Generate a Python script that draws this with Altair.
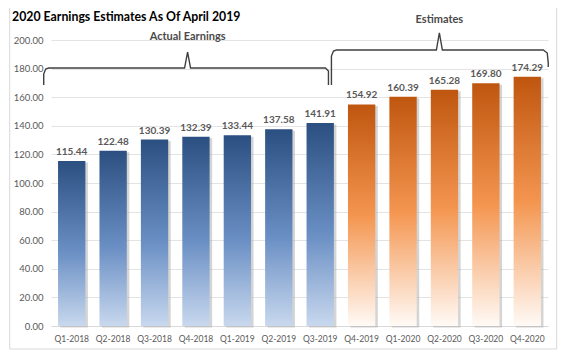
import altair as alt
import pandas as pd

quarters = ["Q1-2018", "Q2-2018", "Q3-2018", "Q4-2018", "Q1-2019", "Q2-2019", "Q3-2019",
            "Q4-2019", "Q1-2020", "Q2-2020", "Q3-2020", "Q4-2020"]
values = [115.44, 122.48, 130.39, 132.39, 133.44, 137.58, 141.91,
          154.92, 160.39, 165.28, 169.80, 174.29]
groups = ["Actual"] * 7 + ["Estimate"] * 5

# bracket outlines (x in category-step units, y in value units)
br_id = ["a"] * 10 + ["e"] * 11
br_x = [-0.176, -0.176, -0.128, -0.055, 3.225, 3.298, 3.370, 6.627, 6.699, 6.699,
        6.771, 6.771, 6.820, 6.892, 9.305, 9.377, 9.450, 11.886, 11.982, 12.006, 12.006]
br_y = [168.5, 176.2, 179.7, 180.4, 180.4, 191.6, 180.4, 180.4, 178.3, 168.5,
        168.5, 188.8, 192.3, 193.0, 193.0, 204.9, 193.0, 193.0, 190.9, 184.0, 181.1]
br_label = ["Actual Earnings", "Estimates"]
br_label_x = [3.298, 9.377]
br_label_y = [202.0, 214.0]
title_text = ["2020 Earnings Estimates As Of April 2019"]

FONT = "Lato"

df = pd.DataFrame({"quarter": quarters, "value": values, "group": groups})
bdf = pd.DataFrame({"id": br_id, "x": br_x, "y": br_y, "i": range(len(br_x))})
ldf = pd.DataFrame({"label": br_label, "x": br_label_x, "y": br_label_y})
tdf = pd.DataFrame({"t": title_text})

yaxis = alt.Axis(title=None, values=list(range(0, 201, 20)), format=".2f",
                 ticks=False, domain=False, gridColor="#e3e3e3",
                 labelColor="#595959", labelFont=FONT, labelFontSize=9.5,
                 labelPadding=8)

xband = alt.X("quarter:N", sort=quarters,
              scale=alt.Scale(domain=quarters, paddingInner=0.34, paddingOuter=0.17),
              axis=alt.Axis(title=None, labelAngle=0, ticks=False, domain=True,
                            domainColor="#d9d9d9", labelColor="#595959", labelFont=FONT,
                            labelFontSize=8.5, labelPadding=8, grid=False))
yq = alt.Y("value:Q", scale=alt.Scale(domain=[0, 200], nice=False), axis=yaxis)

base = alt.Chart(df)

shadow = base.mark_bar(color="#b0b0b0", opacity=0.55, xOffset=2.5, yOffset=1.5).encode(
    x=xband, y=yq)

blue = alt.Gradient(gradient="linear", x1=0, x2=0, y1=0, y2=1,
                    stops=[alt.GradientStop(color="#2b4f80", offset=0),
                           alt.GradientStop(color="#6a8fc4", offset=0.55),
                           alt.GradientStop(color="#c8d8ee", offset=1)])
orange = alt.Gradient(gradient="linear", x1=0, x2=0, y1=0, y2=1,
                      stops=[alt.GradientStop(color="#bf560f", offset=0),
                             alt.GradientStop(color="#f4954f", offset=0.5),
                             alt.GradientStop(color="#fffaf6", offset=1)])

bars_a = base.transform_filter(alt.datum.group == "Actual").mark_bar(color=blue).encode(
    x=xband, y=yq)
bars_e = base.transform_filter(alt.datum.group == "Estimate").mark_bar(color=orange).encode(
    x=xband, y=yq)

labels = base.mark_text(dy=-9, fontWeight="bold", color="#595959", font=FONT,
                        fontSize=10).encode(
    x=xband, y=yq, text=alt.Text("value:Q", format=".2f"))

bars = alt.layer(shadow, bars_a, bars_e, labels)

xq = alt.X("x:Q", scale=alt.Scale(domain=[0, 12], nice=False, zero=False), axis=None)
yb = alt.Y("y:Q", scale=alt.Scale(domain=[0, 200], nice=False), axis=yaxis)

brackets = alt.Chart(bdf).mark_line(color="#404040", strokeWidth=1.4).encode(
    x=xq, y=yb, detail="id:N", order="i:Q")
blabels = alt.Chart(ldf).mark_text(color="#4a4a4a", font=FONT, fontSize=11,
                                   fontWeight="bold").encode(x=xq, y=yb, text="label:N")

frame = alt.Chart(tdf).mark_rect(fill=None, stroke="#d9d9d9", strokeWidth=1).encode(
    x=alt.value(-41.3), x2=alt.value(505.7), y=alt.value(-35), y2=alt.value(309))

title = alt.Chart(tdf).mark_text(align="left", baseline="alphabetic", font=FONT,
                                 fontSize=12.3, fontWeight="bold", color="#000000").encode(
    x=alt.value(-39), y=alt.value(-19), text="t:N")

over = alt.layer(brackets, blabels, frame, title)

chart = alt.layer(bars, over).resolve_scale(x="independent").properties(
    width=497, height=286,
    autosize=alt.AutoSizeParams(type="none"),
    padding={"left": 43, "top": 32, "right": 10, "bottom": 24},
).configure_view(stroke=None)

chart.save("out.html", embed_options={"renderer": "svg", "actions": False})
